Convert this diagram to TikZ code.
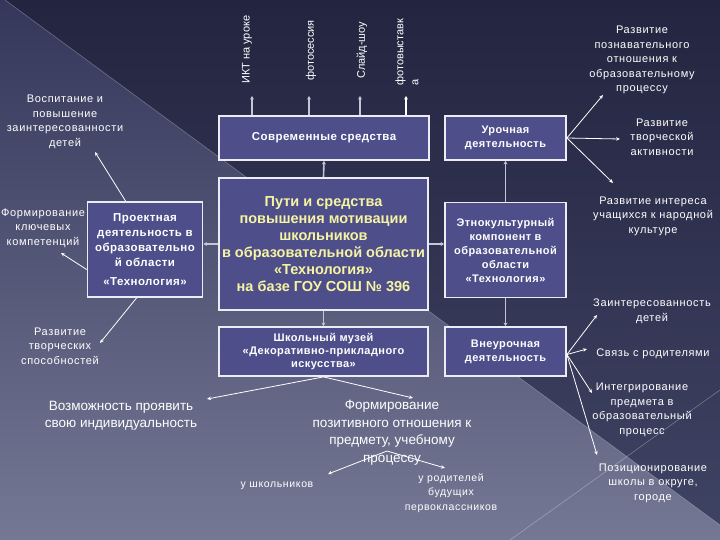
\documentclass[tikz,border=0pt]{standalone}
\usepackage{fontspec}
\setmainfont{Liberation Sans}
\newfontfamily\lblfam[LetterSpace=6]{Liberation Sans}
\newfontfamily\boxfam[LetterSpace=4]{Liberation Sans}
\usetikzlibrary{arrows.meta}
\definecolor{boxfill}{HTML}{4D4E8A}
\definecolor{boxline}{HTML}{ECECF4}
\definecolor{connc}{HTML}{C4C6D8}
\definecolor{ctext}{HTML}{F6F4A2}
\definecolor{bgA}{HTML}{34375A}
\definecolor{bgB}{HTML}{747894}
\definecolor{bgC}{HTML}{232540}
\definecolor{bgD}{HTML}{3F4363}
\tikzset{
  box/.style={draw=boxline, line width=1.8pt, fill=boxfill, text=white, align=center, inner sep=1pt, font=\boxfam\bfseries\fontsize{11}{14}\selectfont},
  lab/.style={text=white, align=center, inner sep=0pt, font=\lblfam\fontsize{11}{14.5}\selectfont},
  big/.style={text=white, align=center, inner sep=0pt, font=\fontsize{13.5}{17.5}\selectfont},
  vlab/.style={text=white, align=left, inner sep=0pt, rotate=90, anchor=west, font=\fontsize{11}{15}\selectfont},
  arr/.style={draw=white, line width=0.8pt, -{Stealth[length=4pt,width=3.5pt]}},
  conn/.style={draw=connc, line width=1.6pt, -{Stealth[length=3.5pt,width=4pt]}},
}
\begin{document}
\begin{tikzpicture}[x=1pt,y=-1pt]
\useasboundingbox (0,0) rectangle (720,540);
% background
\shade[top color=bgA, bottom color=bgB] (0,0) rectangle (720,540);
\shade[top color=bgC, bottom color=bgD] (5,0) -- (720,0) -- (720,525) -- cycle;
\draw[white, opacity=0.3, line width=0.6pt] (5,0) -- (720,525);
\draw[white, opacity=0.3, line width=0.6pt] (510,540) -- (720,390);

% boxes
\node[box, minimum width=210pt, minimum height=44pt, font=\boxfam\bfseries\fontsize{11.5}{14}\selectfont] (sovr) at (324,138) {Современные средства};
\node[box, minimum width=121pt, minimum height=44pt] (uroch) at (505.5,138) {Урочная\\деятельность};
\node[box, minimum width=209pt, minimum height=132pt, text=ctext, font=\bfseries\fontsize{14.5}{17}\selectfont] (main) at (323.5,244)
  {Пути и средства\\повышения мотивации\\школьников\\в образовательной области\\«Технология»\\на базе ГОУ СОШ № 396};
\node[box, minimum width=115pt, minimum height=95pt, font=\boxfam\bfseries\fontsize{11.5}{15}\selectfont] (proekt) at (145,249.5)
  {Проектная\\деятельность в\\образовательно\\й области\\[4pt]«Технология»};
\node[box, minimum width=121pt, minimum height=95pt] (etno) at (505.5,250)
  {Этнокультурный\\компонент в\\образовательной\\области\\«Технология»};
\node[box, minimum width=209pt, minimum height=49pt, font=\boxfam\bfseries\fontsize{11}{12.8}\selectfont] (muz) at (323.5,351.5)
  {Школьный музей\\«Декоративно-прикладного\\искусства»};
\node[box, minimum width=121pt, minimum height=49pt] (vneur) at (505.5,351.5) {Внеурочная\\деятельность};

% connectors between boxes
\draw[conn] (main.north) -- (sovr.south);
\draw[conn] (main.south) -- (muz.north);
\draw[conn] (main.west) -- (proekt.east |- main.west);
\draw[conn] (main.east) -- (etno.west |- main.east);
\draw[conn] (etno.north) -- (uroch.south);
\draw[conn] (etno.south) -- (vneur.north);

% top vertical labels
\node[vlab] (t1) at (247,84) {ИКТ на уроке};
\node[vlab] (t2) at (311,81) {фотосессия};
\node[vlab] (t3) at (362,79) {Слайд-шоу};
\node[vlab] (t4) at (407,86) {фотовыставк\\а};
\coordinate (e1) at (252,96);
\coordinate (e2) at (309,96);
\coordinate (e3) at (360,96);
\coordinate (e4) at (406,96);
\draw[conn, line width=1.2pt] (sovr.north -| e1) -- (e1);
\draw[conn, line width=1.2pt] (sovr.north -| e2) -- (e2);
\draw[conn, line width=1.2pt] (sovr.north -| e3) -- (e3);
\draw[conn, line width=1.2pt, draw=white] (sovr.north -| e4) -- (e4);

% left labels
\node[lab] (l1) at (65,122) {Воспитание и\\повышение\\заинтересованности\\детей};
\node[lab] (l2) at (43,228) {Формирование\\ключевых\\компетенций};
\node[lab] (l3) at (60,346) {Развитие\\творческих\\способностей};
\coordinate (pl1) at (95,152);
\coordinate (pl2) at (61,253);
\coordinate (pl3) at (100,343);
\draw[arr] ([xshift=39pt]proekt.north west) -- (pl1);
\draw[arr] ([yshift=-20pt]proekt.west) -- (pl2);
\draw[arr] ([xshift=50pt]proekt.south west) -- (pl3);

% right labels (uroch)
\node[lab] (r1) at (642,60) {Развитие\\познавательного\\отношения к\\образовательному\\процессу};
\node[lab] (r2) at (662,137) {Развитие\\творческой\\активности};
\node[lab] (r3) at (653,216) {Развитие интереса\\учащихся к народной\\культуре};
\coordinate (pr1) at (603,95);
\coordinate (pr2) at (620,139);
\coordinate (pr3) at (613,183);
\draw[arr] (uroch.east) -- (pr1);
\draw[arr] (uroch.east) -- (pr2);
\draw[arr] (uroch.east) -- (pr3);

% right labels (vneur)
\node[lab] (s1) at (652,311.5) {Заинтересованность\\детей};
\node[lab] (s2) at (653,354) {Связь с родителями};
\node[lab] (s3) at (642,410) {Интегрирование\\предмета в\\образовательный\\процесс};
\node[lab] (s4) at (653,483) {Позиционирование\\школы в округе,\\городе};
\coordinate (ps1) at (597,315);
\coordinate (ps2) at (587,349);
\coordinate (ps3) at (592,393);
\coordinate (ps4) at (597,455);
\draw[arr] ([yshift=-3pt]vneur.east) -- (ps1);
\draw[arr] ([yshift=-3pt]vneur.east) -- (ps2);
\draw[arr] ([yshift=-3pt]vneur.east) -- (ps3);
\draw[arr] ([yshift=-3pt]vneur.east) -- (ps4);

% bottom labels
\node[big] (b1) at (121,416) {Возможность проявить\\свою индивидуальность};
\node[big] (b2) at (392,432.5) {Формирование\\позитивного отношения к\\предмету, учебному\\процессу};
\node[lab, font=\lblfam\fontsize{10.5}{14.5}\selectfont] (b3) at (277,486) {у школьников};
\node[lab, font=\lblfam\fontsize{10.5}{14.5}\selectfont] (b4) at (451,493) {у родителей\\будущих\\первоклассников};
\coordinate (pb1) at (207,399);
\coordinate (pb2) at (413,398);
\draw[arr] (muz.south) -- (pb1);
\draw[arr] (muz.south) -- (pb2);
\coordinate (q0) at (387,451);
\coordinate (pb3) at (328,474);
\coordinate (pb4) at (445,468);
\draw[arr] (q0) -- (pb3);
\draw[arr] (q0) -- (pb4);
\end{tikzpicture}
\end{document}
